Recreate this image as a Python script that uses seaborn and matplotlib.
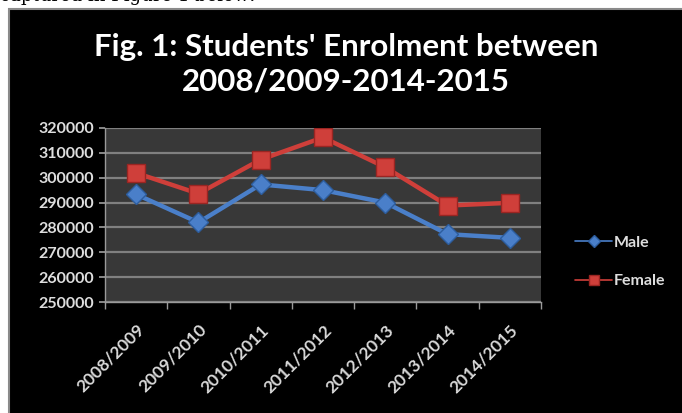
import matplotlib
matplotlib.use("Agg")
import matplotlib.pyplot as plt
import matplotlib.transforms as mtransforms
import seaborn as sns
import pandas as pd
from matplotlib.lines import Line2D
from matplotlib.patches import Rectangle

years = ["2008/2009", "2009/2010", "2010/2011", "2011/2012", "2012/2013", "2013/2014", "2014/2015"]
male = [293300, 282000, 297300, 295000, 290000, 277300, 275800]
female = [301900, 293600, 307300, 316200, 304200, 288800, 289900]
series_names = ["Male", "Female"]
y_ticks = [250000, 260000, 270000, 280000, 290000, 300000, 310000, 320000]
title = "Fig. 1: Students' Enrolment between\n2008/2009-2014-2015"

df = pd.DataFrame({
    "Year": years * 2,
    "Students": male + female,
    "Sex": [series_names[0]] * len(years) + [series_names[1]] * len(years),
})

sns.set_theme(style="dark")
plt.rcParams["font.family"] = ["Lato", "DejaVu Sans"]

W, H = 682, 413
fig = plt.figure(figsize=(W / 100, H / 100), dpi=100)
fig.patch.set_facecolor("white")

# black chart area with gray border
fig.patches.append(Rectangle((9 / W, -0.05), 1.1, 1.05 - 9 / H, transform=fig.transFigure,
                             facecolor="black", edgecolor="#8a8a8a", linewidth=1.5, zorder=0))
# clipped caption text at the top (cut off in the reference too)
fig.text(0.0, 1 - 1 / H, "captured in Figure 1 below:", family="DejaVu Serif",
         fontsize=13, color="black", va="baseline", ha="left")

left, right, top, bottom = 105, 541, 128, 302
ax = fig.add_axes([left / W, 1 - bottom / H, (right - left) / W, (bottom - top) / H])
ax.set_zorder(3)
ax.set_facecolor("#383838")

colors = {"Male": "#4a7fc9", "Female": "#cf3f3a"}
edges = {"Male": "#2d5d9e", "Female": "#9a2522"}
markers = {"Male": "D", "Female": "s"}

sns.lineplot(data=df, x="Year", y="Students", hue="Sex", style="Sex",
             palette=colors, markers=markers, dashes=False, sort=False,
             linewidth=3.2, markersize=11, legend=False, ax=ax)
for line in ax.lines:
    lab = "Male" if line.get_color() == colors["Male"] else "Female"
    line.set_markeredgecolor(edges[lab])
    line.set_markeredgewidth(1)
    line.set_markersize(10.5 if lab == "Male" else 12.5)

ax.set_xlim(-0.5, len(years) - 0.5)
ax.set_ylim(250000, 320000)
ax.set_yticks(y_ticks)
ax.set_yticklabels([str(v) for v in y_ticks])
ax.yaxis.grid(True, color="#808080", linewidth=1.6)
ax.xaxis.grid(False)
ax.set_axisbelow(True)
ax.set_xticks(range(len(years)))
ax.set_xticklabels(years, rotation=45, ha="right", rotation_mode="anchor")
ax.set_xticks([i - 0.5 for i in range(len(years) + 1)], minor=True)
ax.tick_params(axis="x", which="major", length=0, pad=14, labelsize=12.5, labelcolor="#d8d8d8")
ax.tick_params(axis="x", which="minor", length=5, color="#9a9a9a", direction="out", width=1, bottom=True)
ax.tick_params(axis="y", which="major", length=4, color="#9a9a9a", direction="out",
               labelsize=11.5, labelcolor="#dedede", pad=4, left=True)
for lbl in ax.get_xticklabels() + ax.get_yticklabels():
    lbl.set_fontweight("bold")
for s in ["top", "right"]:
    ax.spines[s].set_visible(False)
for s in ["left", "bottom"]:
    ax.spines[s].set_visible(True)
    ax.spines[s].set_color("#9a9a9a")
    ax.spines[s].set_linewidth(1)
ax.set_xlabel("")
ax.set_ylabel("")

fig.text(346 / W, 1 - 64 / H, title, ha="center", va="center", color="white",
         fontsize=22.5, fontweight="bold", linespacing=1.3, zorder=5)

handles = [Line2D([], [], color=colors[n], marker=markers[n], markersize=6.5 if n == "Male" else 7.5,
                  markeredgecolor=edges[n], linewidth=1.2) for n in series_names]
leg = fig.legend(handles, series_names, loc="center left",
                 bbox_to_anchor=(561 / W, 1 - 262 / H), frameon=False,
                 handlelength=2.3, handletextpad=0.1, labelspacing=1.5,
                 prop={"weight": "bold", "size": 11.5})
leg.set_zorder(5)
for t in leg.get_texts():
    t.set_color("#dedede")

fig.savefig("out.png", dpi=100, facecolor=fig.get_facecolor())
